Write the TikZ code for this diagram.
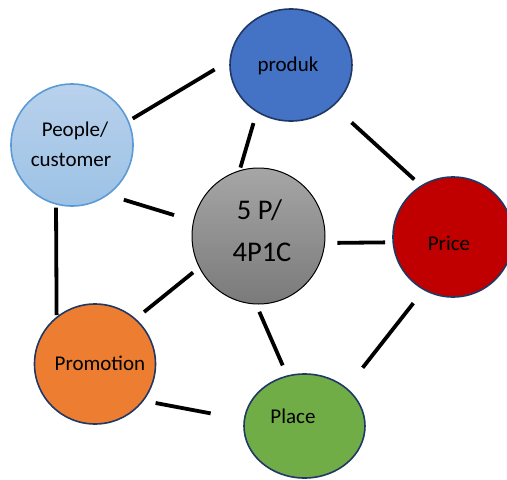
\documentclass[tikz,border=0pt]{standalone}
\usepackage{fontspec}
\setmainfont{Carlito}
\usetikzlibrary{shapes.geometric}
\definecolor{navyb}{HTML}{1F3864}
\definecolor{prodblue}{HTML}{4472C4}
\definecolor{pricered}{HTML}{C00000}
\definecolor{promorange}{HTML}{ED7D31}
\definecolor{placegreen}{HTML}{70AD47}
\definecolor{peopletop}{HTML}{B9D1EC}
\definecolor{peoplebot}{HTML}{9CC2E5}
\definecolor{peopleedge}{HTML}{5B9BD5}
\definecolor{graytop}{HTML}{A6A6A6}
\definecolor{graybot}{HTML}{7A7A7A}
\tikzset{
  bubble/.style={ellipse, inner sep=0pt, line width=1.6pt, draw=navyb},
  lbl/.style={anchor=base, inner sep=0pt, font=\fontsize{21}{25}\selectfont, text=black},
  biglbl/.style={anchor=base, inner sep=0pt, font=\fontsize{28.5}{32}\selectfont, text=black},
  link/.style={line width=3.8pt, black},
}
\begin{document}
\begin{tikzpicture}[x=1pt,y=-1pt]
\useasboundingbox (0,0) rectangle (507,480);
% nodes
\node[bubble, fill=prodblue, minimum width=122pt, minimum height=112pt] (Pr) at (291,65) {};
\node[bubble, draw=peopleedge, top color=peopletop, bottom color=peoplebot, minimum width=122pt, minimum height=122pt] (P) at (72,145) {};
\node[bubble, draw=black, line width=1pt, top color=graytop, bottom color=graybot, minimum width=133pt, minimum height=136pt] (C) at (258.5,236) {};
\node[bubble, fill=pricered, minimum width=120pt, minimum height=120pt] (Pi) at (453,237) {};
\node[bubble, fill=promorange, minimum width=121pt, minimum height=120pt] (Pm) at (95,364) {};
\node[bubble, fill=placegreen, minimum width=121pt, minimum height=104pt] (Pl) at (304.5,426) {};
% labels
\node[lbl] (tPr) at (288,71) {produk};
\node[lbl] (tP1) at (75,136) {People/};
\node[lbl] (tP2) at (71,166) {customer};
\node[biglbl] (tC1) at (259.5,219) {5 P/};
\node[biglbl] (tC2) at (262,261) {4P1C};
\node[lbl] (tPi) at (449,250) {Price};
\node[lbl] (tPm) at (100,370) {Promotion};
\node[lbl] (tPl) at (293,423) {Place};
% connectors
\draw[link, shorten <=4.4pt, shorten >=17.2pt] (P.23.4) -- (Pr.176.3);
\draw[link, shorten <=11.3pt, shorten >=2.8pt] (Pr.234.5) -- (C.106);
\draw[link, shorten <=24.3pt, shorten >=8.8pt] (Pr.316.5) -- (Pi.122.5);
\draw[link, shorten <=16.2pt, shorten >=20pt] (P.306.6) -- (C.167.3);
\draw[link, shorten <=3pt, shorten >=1.6pt] (P.255.5) -- (Pm.129.1);
\draw[link, shorten <=12.3pt, shorten >=7.3pt] (C.354.9) -- (Pi.185.1);
\draw[link, shorten <=7.7pt, shorten >=10.6pt] (C.208.8) -- (Pm.48.4);
\draw[link, shorten <=8pt, shorten >=10.9pt] (C.268.1) -- (Pl.109.7);
\draw[link, shorten <=16.5pt, shorten >=25.6pt] (Pi.241.1) -- (Pl.42.3);
\draw[link, shorten <=12pt, shorten >=33.6pt] (Pm.323.4) -- (Pl.174.5);
\end{tikzpicture}
\end{document}
